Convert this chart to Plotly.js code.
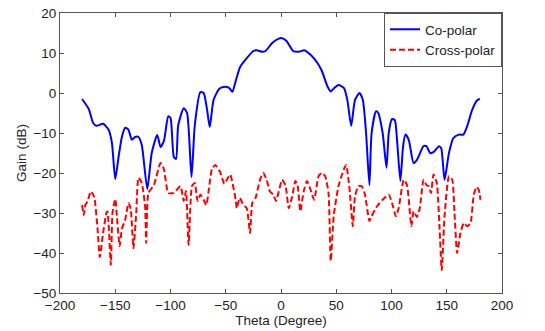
<!DOCTYPE html>
<html><head><meta charset="utf-8">
<script src="https://cdn.plot.ly/plotly-3.0.1.min.js"></script>
<style>html,body{margin:0;padding:0;background:#fff}#chart{width:545px;height:331px}</style>
</head><body><div id="chart"></div>
<script>
const coTheta = [-180,-174,-170,-167,-161,-156,-153,-150,-147,-144,-141,-138,-135,-132,-129,-126,-121,-117,-112,-109,-106,-102,-100,-97,-95,-93,-88,-85,-81,-78,-73,-70,-67,-64.5,-61,-56,-52,-47,-44,-41,-37,-31,-25,-22,-17,-14,-8,-2,1,5,11,16,21,27,33,37,42,45,48,52,57,60,63.5,67,71,74,77,80,82,86,88,92,95.5,97.5,100.5,103,105,108,110.5,112.6,115.6,120,123,129,131.6,135,138,143,145,148,152,156,161,165,168.5,173,177.5,180];
const coGain = [-1.5,-4,-7.5,-8.2,-7.7,-9.2,-12.5,-21.5,-16,-11,-8.7,-9.2,-11.7,-11,-11,-13,-24,-15,-10.5,-13.5,-12,-5.8,-6.2,-16,-16.5,-8,-3.8,-5,-21,-8,0.2,0,-4,-8.5,-1.7,1,1.5,1.3,0.3,3,6.5,8.7,10.5,10.7,10.3,10.5,12.5,13.6,13.7,13,10.5,10.3,10.7,9.5,7.5,5.5,1.7,0.4,1.2,2,1.2,-1.7,-8.2,-1.7,0,-1.7,-10,-23,-10,-4.6,-5,-10,-18.7,-10,-6.5,-6.8,-11.7,-22,-13.3,-10.4,-11.7,-17.5,-16.7,-13.3,-13.3,-15,-14.8,-13.3,-13.8,-21.7,-15,-11.3,-10.4,-10.4,-8.3,-4.2,-1.8,-1.5];
const xTheta = [-180,-178.5,-177,-175,-172,-169,-166,-164,-161,-158,-157,-154,-152.5,-150,-148.5,-146,-144,-141,-138,-136,-133.5,-131,-129,-126,-123,-122,-120,-115,-109,-106,-102,-97,-91,-88,-86,-83.6,-80.6,-78,-75.5,-73,-70,-67.6,-62.5,-59.5,-55,-51.3,-49,-46,-41,-40,-37.4,-34,-31,-28,-26,-23,-19,-16,-13,-10,-7,-4.5,-2,1,4,7,10,13,15,17.5,20.5,23.5,26.5,30,34,37,40,43,45,47.7,52,57,59,62,65,67,70,73,76,80,82,87,92,97.5,100.5,104,106.5,111,114,118,120,123,125.6,129,131.6,133.7,135.8,138,141,143.4,145.5,148,152,155,157,159.4,162.4,165.4,168.5,171.5,174.5,177,179,180.5];
const xGain = [-28,-30.5,-28,-27,-24.6,-26,-34,-41,-35,-30,-29.6,-43,-30,-26.5,-31,-38.3,-34,-31.7,-27.5,-29,-38.8,-30,-21.2,-22.5,-28.3,-37.5,-25,-23,-17.5,-19,-25,-25,-23.3,-27,-24.5,-38,-23.3,-22.5,-27,-25.4,-26.7,-28,-19,-18,-19.8,-22.7,-21.7,-20.4,-26.7,-28.8,-26.2,-28,-28.8,-35,-27.5,-26.2,-21.7,-20,-21.7,-24.6,-25.4,-27,-24.6,-21.7,-23,-28.8,-26,-22,-23,-29.6,-24.6,-22,-24,-26.7,-20.8,-20,-20.8,-25,-42,-30.8,-23.3,-19,-18,-24,-33.3,-25.8,-23.3,-23.3,-25.4,-32,-30.8,-28.3,-26.7,-25.4,-27.5,-30.8,-28.8,-21.7,-23,-33.3,-29.6,-31,-28.8,-21.7,-23,-23.3,-25,-20.4,-22.5,-33.3,-44.3,-30.8,-20.8,-21.7,-30,-40,-35,-32.5,-33.3,-32.5,-25.4,-23.5,-24.2,-26.7];
const xTicks = [-200,-150,-100,-50,0,50,100,150,200];
const yTicks = [-50,-40,-30,-20,-10,0,10,20];

const font = {family:'Liberation Sans, Arial, sans-serif', size:13.5, color:'#222'};
const axisCommon = {showline:true, linecolor:'#555', linewidth:1, mirror:'ticks', ticks:'inside', ticklen:4, tickcolor:'#555', showgrid:false, zeroline:false, tickfont:font};
Plotly.newPlot('chart', [
  {x:coTheta, y:coGain, name:'Co-polar', mode:'lines', line:{color:'#0000ff', width:2, shape:'spline', smoothing:0.6}},
  {x:xTheta, y:xGain, name:'Cross-polar', mode:'lines', line:{color:'#ff0000', width:2, dash:'6px,3px', shape:'spline', smoothing:0.5}}
], {
  width:545, height:331, margin:{l:60, r:43, t:13, b:38},
  paper_bgcolor:'#fff', plot_bgcolor:'#fff', font:font,
  xaxis:Object.assign({}, axisCommon, {range:[-200,200], tickvals:xTicks, title:{text:'Theta (Degree)', font:font, standoff:1}}),
  yaxis:Object.assign({}, axisCommon, {range:[-50,20], tickvals:yTicks, title:{text:'Gain (dB)', font:font, standoff:3}}),
  showlegend:true,
  legend:{x:1, y:1, xanchor:'right', yanchor:'top', bgcolor:'#fff', bordercolor:'#555', borderwidth:1, font:font, tracegroupgap:0, itemwidth:30}
}, {displayModeBar:false, staticPlot:true});
</script></body></html>
